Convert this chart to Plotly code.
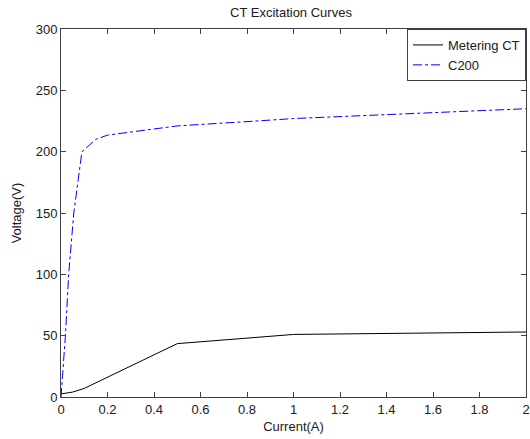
import plotly.graph_objects as go

# Data
metering_current = [0, 0.05, 0.1, 0.5, 1.0, 2.0]
metering_voltage = [2.5, 4, 7, 43.5, 51, 53]

c200_current = [0, 0.019, 0.033, 0.055, 0.09, 0.15, 0.2, 0.33, 0.5, 0.8, 1.0, 2.0]
c200_voltage = [0, 50, 100, 150, 200, 210, 213.5, 217, 221, 224.5, 227, 235]

x_ticks = [0, 0.2, 0.4, 0.6, 0.8, 1, 1.2, 1.4, 1.6, 1.8, 2]
y_ticks = [0, 50, 100, 150, 200, 250, 300]

font_family = "Liberation Sans, Arial, sans-serif"
txt = dict(size=13, color="#202020", family=font_family)

fig = go.Figure()
fig.add_trace(go.Scatter(x=metering_current, y=metering_voltage, mode="lines",
                         name="Metering CT", line=dict(color="black", width=1)))
fig.add_trace(go.Scatter(x=c200_current, y=c200_voltage, mode="lines",
                         name="C200", line=dict(color="blue", width=1, dash="dashdot")))

axis_common = dict(showgrid=False, zeroline=False, showline=True, linecolor="#404040",
                   linewidth=1, mirror="ticks", ticks="inside", ticklen=5,
                   tickcolor="#404040", tickfont=txt, automargin=False)

fig.update_layout(
    width=530, height=439,
    margin=dict(l=61, r=4, t=29, b=42),
    paper_bgcolor="white", plot_bgcolor="white",
    title=dict(text="CT Excitation Curves", x=0.549, xanchor="center", y=0.982, yanchor="top",
               font=txt),
    xaxis=dict(range=[0, 2], tickvals=x_ticks, ticktext=[str(v) for v in x_ticks],
               title=dict(text="Current(A)", standoff=6, font=txt),
               **axis_common),
    yaxis=dict(range=[0, 300], tickvals=y_ticks,
               title=dict(text="Voltage(V)", standoff=11, font=txt),
               **axis_common),
    legend=dict(x=1, y=1, xanchor="right", yanchor="top", bgcolor="white",
                bordercolor="#404040", borderwidth=1, font=txt,
                tracegroupgap=0, itemwidth=30),
    showlegend=True,
)

fig.write_html("out.html", config={"displayModeBar": False},
               post_script="document.body.style.margin='0';document.body.style.overflow='hidden';")
